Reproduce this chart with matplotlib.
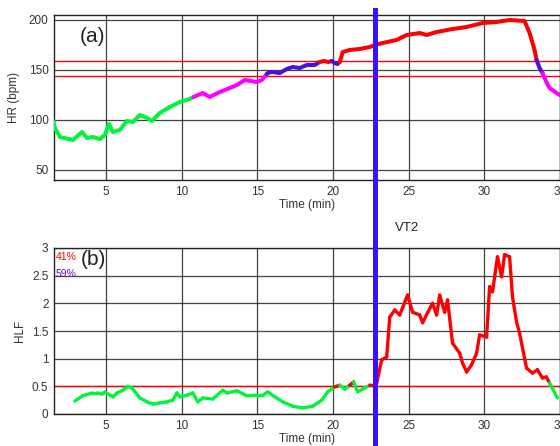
import matplotlib
matplotlib.use("Agg")
import matplotlib.pyplot as plt
from matplotlib.lines import Line2D
import matplotlib.transforms as mtransforms

plt.rcParams['font.family'] = ['Liberation Sans', 'DejaVu Sans']

# ---------------- data ----------------
# HR (bpm) per intensity zone
hr_green_t = [1.52, 1.63, 1.96, 2.82, 3.42, 3.75, 4.14, 4.6, 4.93, 5.2, 5.46, 5.92, 6.39,
              6.78, 7.24, 7.71, 8.04, 8.56, 9.22, 9.88, 10.54, 10.78]
hr_green = [99, 92, 83, 80, 88, 82, 83, 81, 85, 96, 88, 90, 99, 98, 105, 102, 99, 107,
            113, 118, 121, 123]
hr_mag1_t = [10.78, 11.4, 11.86, 12.52, 13.18, 13.65, 14.17, 14.97, 15.3, 15.63]
hr_mag1 = [123, 127, 123, 128, 132, 135, 140, 138, 140, 146]
hr_blue1_t = [15.63, 15.69, 15.96, 16.49, 16.95, 17.34, 17.8, 18.27, 18.79, 19.12]
hr_blue1 = [146, 147, 148, 147, 151, 153, 152, 155, 155, 158]
hr_red1_t = [19.12, 19.4, 19.7, 19.92]
hr_red1 = [158, 159, 158, 159]
hr_blue2_t = [19.92, 20.1, 20.3, 20.45]
hr_blue2 = [159, 157, 156, 158]
hr_red2_t = [20.45, 20.64, 21.1, 21.77, 22.43, 22.76, 23.28, 24.2, 24.87, 25.73, 26.19,
             26.85, 27.9, 28.83, 29.88, 30.81, 31.67, 32.66, 32.99, 33.32, 33.45]
hr_red2 = [158, 168, 170, 171, 173, 175, 177, 180, 185, 187, 185, 188, 191, 193, 197,
           198, 200, 199, 187, 170, 160]
hr_blue3_t = [33.45, 33.65, 33.84]
hr_blue3 = [160, 152, 147]
hr_mag2_t = [33.84, 34.1, 34.31, 34.77, 34.97]
hr_mag2 = [147, 138, 132, 127, 125]

hr_thresholds = [159, 144]

# HLF
hlf_t = [2.95, 3.48, 4.08, 4.41, 4.74, 4.93, 5.26, 5.46, 5.73, 6.12, 6.45, 6.72, 7.24,
         7.71, 8.1, 8.56, 9.03, 9.42, 9.69, 9.88, 10.35, 10.74, 11.07, 11.4, 12.06,
         12.72, 12.99, 13.65, 14.31, 14.97, 15.36, 15.69, 16.16, 16.68, 17.34, 18.0,
         18.66, 19.26, 19.65, 20.12, 20.45, 20.78, 21.1, 21.37, 21.63, 22.1, 22.43,
         22.76, 22.89, 23.22, 23.55, 23.75, 24.08, 24.41, 24.6, 24.93, 25.26, 25.73,
         25.92, 26.25, 26.58, 26.85, 27.05, 27.38, 27.57, 27.9, 28.37, 28.56, 28.83,
         29.16, 29.49, 29.69, 30.15, 30.35, 30.54, 30.87, 31.14, 31.34, 31.67, 31.86,
         32.13, 32.33, 32.79, 33.18, 33.51, 33.84, 34.1, 34.31, 34.83]
hlf = [0.235, 0.33, 0.38, 0.38, 0.36, 0.40, 0.34, 0.31, 0.38, 0.43, 0.50, 0.47, 0.29,
       0.22, 0.18, 0.20, 0.22, 0.25, 0.38, 0.31, 0.34, 0.38, 0.22, 0.29, 0.27, 0.43,
       0.38, 0.42, 0.33, 0.34, 0.34, 0.40, 0.31, 0.22, 0.14, 0.11, 0.14, 0.25, 0.40,
       0.49, 0.52, 0.45, 0.52, 0.58, 0.40, 0.47, 0.52, 0.51, 0.56, 0.98, 1.03, 1.75,
       1.88, 1.79, 1.92, 2.15, 1.84, 1.79, 1.65, 1.83, 2.00, 1.79, 2.15, 1.84, 2.06,
       1.28, 1.10, 0.92, 0.76, 0.89, 1.10, 1.43, 1.39, 2.30, 2.21, 2.84, 2.48, 2.88,
       2.84, 2.12, 1.66, 1.46, 0.83, 0.74, 0.80, 0.65, 0.67, 0.56, 0.29]
hlf_threshold = 0.5
vt2 = 22.8
pct_above = "41%"
pct_below = "59%"

C_GREEN = "#00f53a"
C_MAG = "#ff00ff"
C_BLUE = "#4a10e0"
C_RED = "#ff0000"
C_VT = "#3a10ff"

# ---------------- figure ----------------
fig = plt.figure(figsize=(5.6, 4.46), dpi=100)
ax1 = fig.add_axes([54 / 560, 1 - 180 / 446, 1 - 54 / 560, 165 / 446])
ax2 = fig.add_axes([54 / 560, 1 - 414 / 446, 1 - 54 / 560, 166 / 446])

xlim = (1.57, 35.0)
for ax in (ax1, ax2):
    ax.set_xlim(*xlim)
    ax.set_xticks([5, 10, 15, 20, 25, 30, 35])
    ax.grid(True, color="#222222", linewidth=0.9, alpha=0.85)
    ax.set_axisbelow(True)
    ax.tick_params(axis="both", length=0, labelsize=8.5, labelcolor="#333333", pad=4)
    for s in ax.spines.values():
        s.set_color("#222222")
        s.set_linewidth(1.0)
    ax.set_xlabel("Time (min)", fontsize=8.5, color="#333333", labelpad=1)

# top panel
ax1.set_ylim(40, 205)
ax1.set_yticks([50, 100, 150, 200])
ax1.set_ylabel("HR (bpm)", fontsize=8.5, color="#333333", labelpad=6)
for h in hr_thresholds:
    ax1.axhline(h, color=C_RED, linewidth=1.0, zorder=2)
segs = [(hr_green_t, hr_green, C_GREEN), (hr_mag1_t, hr_mag1, C_MAG),
        (hr_blue1_t, hr_blue1, C_BLUE), (hr_red1_t, hr_red1, C_RED),
        (hr_blue2_t, hr_blue2, C_BLUE), (hr_red2_t, hr_red2, C_RED),
        (hr_blue3_t, hr_blue3, C_BLUE), (hr_mag2_t, hr_mag2, C_MAG)]
for t, v, c in segs:
    ax1.plot(t, v, color=c, linewidth=2.9, solid_capstyle="round", zorder=3)
ax1.text(0.05, 0.93, "(a)", transform=ax1.transAxes, fontsize=15, ha="left", va="top",
         color="#222222")

# bottom panel
ax2.set_ylim(0, 3)
ax2.set_yticks([0, 0.5, 1, 1.5, 2, 2.5, 3])
ax2.set_yticklabels(["0", "0.5", "1", "1.5", "2", "2.5", "3"])
ax2.set_ylabel("HLF", fontsize=8.5, color="#333333", labelpad=4)
ax2.axhline(hlf_threshold, color=C_RED, linewidth=1.0, zorder=2)
for i in range(len(hlf_t) - 1):
    mid = 0.5 * (hlf[i] + hlf[i + 1])
    c = C_RED if mid > hlf_threshold else C_GREEN
    ax2.plot(hlf_t[i:i + 2], hlf[i:i + 2], color=c, linewidth=2.4,
             solid_capstyle="round", zorder=3)
ax2.text(0.052, 0.985, "(b)", transform=ax2.transAxes, fontsize=15, ha="left", va="top",
         color="#222222")
ax2.text(0.003, 0.975, pct_above, transform=ax2.transAxes, fontsize=7.5, color=C_RED,
         ha="left", va="top")
ax2.text(0.003, 0.875, pct_below, transform=ax2.transAxes, fontsize=7.5, color="#6a10d0",
         ha="left", va="top")

# VT2 line spanning both panels
trans = mtransforms.blended_transform_factory(ax1.transData, fig.transFigure)
fig.add_artist(Line2D([vt2, vt2], [0, 1 - 10 / 446], transform=trans, color=C_VT,
                      linewidth=3.6, clip_on=False, zorder=10))
fig.text(vt2 + 1.3, 1 - 228 / 446, "VT2", transform=trans, fontsize=9.5,
         color="#222222", va="center", ha="left")

fig.savefig("out.png", dpi=100)
